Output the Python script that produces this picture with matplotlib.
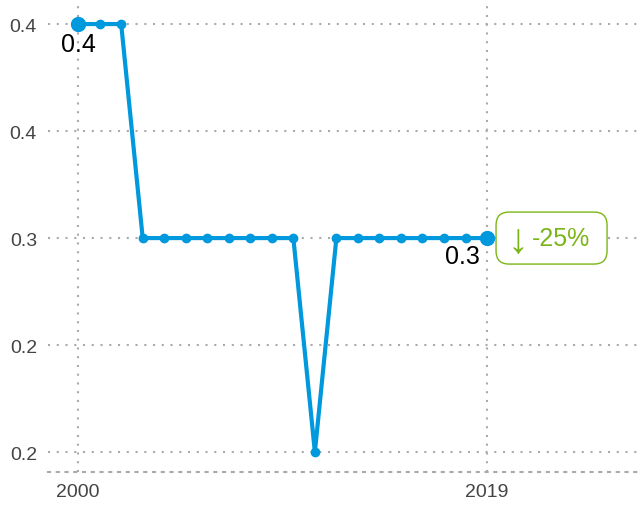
import matplotlib.pyplot as plt
from matplotlib.patches import FancyBboxPatch
from matplotlib.ticker import FixedLocator
from matplotlib.transforms import IdentityTransform

plt.rcParams['font.family'] = ['Liberation Sans', 'DejaVu Sans']

years = list(range(2000, 2020))
values = [0.4, 0.4, 0.4,
          0.3, 0.3, 0.3, 0.3, 0.3, 0.3, 0.3, 0.3,
          0.2,
          0.3, 0.3, 0.3, 0.3, 0.3, 0.3, 0.3, 0.3]
y_ticks = [0.2, 0.25, 0.3, 0.35, 0.4]
y_labels = ['0.2', '0.2', '0.3', '0.4', '0.4']
x_ticks = [2000, 2019]
change_text = '-25%'
arrow = '↓'

blue = '#0099dd'
green = '#7cb518'
grid_gray = '#aaaaaa'

fig = plt.figure(figsize=(6.39, 5.06), dpi=100)
ax = fig.add_axes([48 / 639, 33 / 506, 591 / 639, 473 / 506])

ax.plot(years, values, color=blue, lw=3, marker='o', ms=6, zorder=3, clip_on=False)
ax.plot([years[0], years[-1]], [values[0], values[-1]], ls='none', marker='o',
        ms=10, color=blue, zorder=4, clip_on=False)

ax.set_xlim(1998.6, 2026.06)
ax.set_ylim(0.1907, 0.4117)

ax.xaxis.set_major_locator(FixedLocator(x_ticks))
ax.set_xticklabels([str(x) for x in x_ticks])
ax.set_yticks(y_ticks)
ax.set_yticklabels(y_labels)
ax.tick_params(length=0, labelsize=14, colors='#444444')
ax.tick_params(axis='x', pad=8)
ax.tick_params(axis='y', pad=8)

ax.grid(True, color=grid_gray, lw=1.5, linestyle=(0, (1, 3.2)))
for side in ['top', 'right', 'left']:
    ax.spines[side].set_visible(False)
ax.spines['bottom'].set_color(grid_gray)
ax.spines['bottom'].set_linewidth(1.5)
ax.spines['bottom'].set_linestyle((0, (1, 3.2)))

# value labels at both ends
ax.annotate(f'{values[0]:.1f}', (years[0], values[0]), xytext=(0, -6),
            textcoords='offset points', ha='center', va='top', fontsize=18, color='black')
ax.annotate(f'{values[-1]:.1f}', (years[-1], values[-1]), xytext=(-5, -4),
            textcoords='offset points', ha='right', va='top', fontsize=18, color='black')

# change badge: rounded box in pixels next to the last point
px, py = ax.transData.transform((years[-1], values[-1]))
badge = FancyBboxPatch((px + 9, py - 26), 111, 52,
                       boxstyle='round,pad=0,rounding_size=13',
                       fc='white', ec=green, lw=1, transform=IdentityTransform(),
                       zorder=5, clip_on=False)
ax.add_artist(badge)
ax.annotate(arrow, (years[-1], values[-1]), xytext=(31, -2.5),
            textcoords='offset pixels', ha='center', va='center', fontsize=30,
            color=green, zorder=6)
ax.annotate(change_text, (years[-1], values[-1]), xytext=(45, 0),
            textcoords='offset pixels', ha='left', va='center', fontsize=18,
            color=green, zorder=6)

fig.savefig('out.png', dpi=100)
